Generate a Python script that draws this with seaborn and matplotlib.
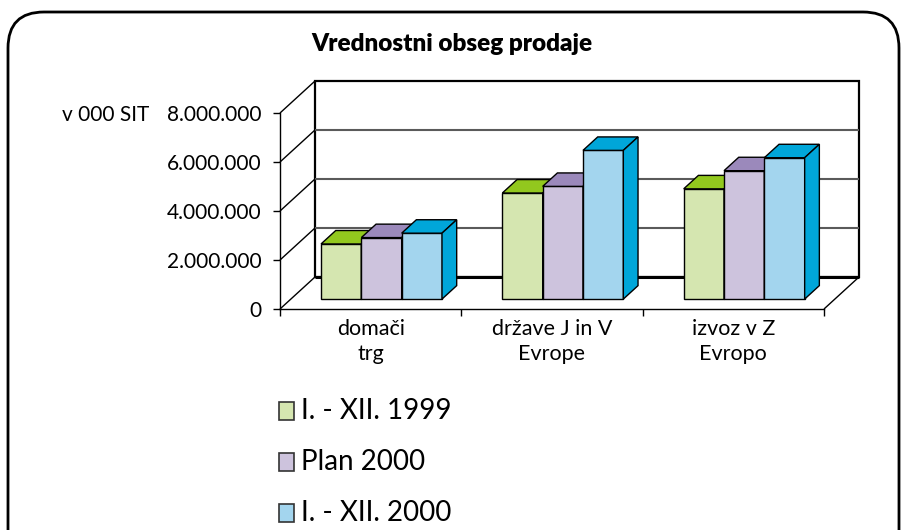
import numpy as np
import pandas as pd
import matplotlib
matplotlib.use("Agg")
import matplotlib.pyplot as plt
import seaborn as sns
from matplotlib.patches import Polygon, Rectangle, FancyBboxPatch
from matplotlib.lines import Line2D
from matplotlib.transforms import ScaledTranslation
from matplotlib.ticker import FuncFormatter, FixedLocator

# ---------------- data ----------------
title = "Vrednostni obseg prodaje"
unit_label = "v 000 SIT"
categories = ["domači\ntrg", "države J in V\nEvrope", "izvoz v Z\nEvropo"]
series = ["I. - XII. 1999", "Plan 2000", "I. - XII. 2000"]
values_1999 = [2250000, 4330000, 4500000]
values_plan_2000 = [2510000, 4600000, 5240000]
values_2000 = [2690000, 6070000, 5770000]
y_ticks = [0, 2000000, 4000000, 6000000, 8000000]
front_colors = ["#D5E6B0", "#CDC3DD", "#A3D5EE"]
top_colors = ["#92C81E", "#9B89BB", "#00A6D9"]

# ---------------- style ----------------
sns.set_theme(style="white")
plt.rcParams["font.family"] = ["Lato", "DejaVu Sans"]

W, H = 903, 530
fig = plt.figure(figsize=(W / 100, H / 100), dpi=100)
fig.patch.set_facecolor("white")

# front plane of the pseudo-3D box (depth 0)
ax = fig.add_axes([280 / W, (H - 309) / H, 544 / W, 196 / H])
ax.set_facecolor("none")

rows = []
for s, vals in zip(series, [values_1999, values_plan_2000, values_2000]):
    for c, v in zip(categories, vals):
        rows.append({"cat": c, "series": s, "val": v})
df = pd.DataFrame(rows)

sns.barplot(data=df, x="cat", y="val", hue="series", order=categories,
            hue_order=series, palette=front_colors, saturation=1,
            width=0.667, edgecolor="black", linewidth=1.0, ax=ax,
            legend=False, errorbar=None)

ax.set_xlim(-0.5, len(categories) - 0.5)
ax.set_ylim(y_ticks[0], y_ticks[-1])
ax.set_xlabel("")
ax.set_ylabel("")
for side in ["top", "right"]:
    ax.spines[side].set_visible(False)
for side in ["left", "bottom"]:
    ax.spines[side].set_color("black")
    ax.spines[side].set_linewidth(1.0)
    ax.spines[side].set_zorder(3)

ax.yaxis.set_major_locator(FixedLocator(y_ticks))
ax.yaxis.set_major_formatter(FuncFormatter(lambda v, p: f"{v:,.0f}".replace(",", ".")))
ax.tick_params(axis="y", which="major", direction="out", length=5, width=1,
               color="black", labelsize=15, pad=8.5, labelcolor="black", left=True)
ax.set_xticks(range(len(categories)))
ax.set_xticklabels(categories, linespacing=1.35)
ax.set_xticks(np.arange(-0.5, len(categories), 1.0), minor=True)
ax.tick_params(axis="x", which="major", length=0, labelsize=15.5, pad=7, labelcolor="black")
ax.tick_params(axis="x", which="minor", direction="out", length=5, width=1,
               color="black", bottom=True)
ax.grid(False)

# ---------------- pseudo-3D helpers ----------------
DX, DY = 35.0, 32.0      # pixel offset of full depth
D0, DB = 0.31, 0.42      # bar front depth, bar thickness
fig.canvas.draw()

def P(x, y, d):
    disp = ax.transData.transform((x, y)) + np.array([DX * d, DY * d]) * fig.dpi / 100.0
    return fig.transFigure.inverted().transform(disp)

def poly(pts, fc, ec="black", lw=1.0, z=1):
    p = Polygon(pts, closed=True, facecolor=fc, edgecolor=ec, linewidth=lw,
                transform=fig.transFigure, zorder=z, clip_on=False, joinstyle="miter")
    ax.add_patch(p)

def line(a, b, color="black", lw=1.0, z=1):
    l = Line2D([a[0], b[0]], [a[1], b[1]], color=color, linewidth=lw,
               transform=fig.transFigure, zorder=z, clip_on=False,
               solid_capstyle="butt")
    ax.add_line(l)

x0, x1 = -0.5, len(categories) - 0.5
ymin, ymax = y_ticks[0], y_ticks[-1]

# back wall
poly([P(x0, ymin, 1), P(x1, ymin, 1), P(x1, ymax, 1), P(x0, ymax, 1)],
     fc="white", ec="black", lw=1.6, z=0.5)
for v in y_ticks[1:-1]:
    line(P(x0, v, 1), P(x1, v, 1), color="#5a5a5a", lw=1.5, z=0.6)
line(P(x0, ymin, 1), P(x1, ymin, 1), color="black", lw=2.2, z=0.7)
# side wall lines
for v in y_ticks:
    line(P(x0, v, 0), P(x0, v, 1), color="black", lw=1.0, z=0.7)
# floor right edge
line(P(x1, ymin, 0), P(x1, ymin, 1), color="black", lw=1.0, z=0.7)

# bars: move seaborn bars to their depth and add top / side faces
offset = ScaledTranslation(DX * D0 / 100.0, DY * D0 / 100.0, fig.dpi_scale_trans)
bars = []
for hi, cont in enumerate(ax.containers):
    for bar in cont:
        bars.append((bar, hi))
bars.sort(key=lambda t: t[0].get_x())
for i, (bar, hi) in enumerate(bars):
    z = 10 + 2 * i
    bar.set_transform(ax.transData + offset)
    bar.set_clip_on(False)
    bar.set_zorder(z)
    bx0 = bar.get_x()
    bx1 = bx0 + bar.get_width()
    h = bar.get_height()
    poly([P(bx0, h, D0), P(bx1, h, D0), P(bx1, h, D0 + DB), P(bx0, h, D0 + DB)],
         fc=top_colors[hi], z=z + 1)
    poly([P(bx1, 0, D0), P(bx1, 0, D0 + DB), P(bx1, h, D0 + DB), P(bx1, h, D0)],
         fc=top_colors[hi], z=z + 1)

# ---------------- texts ----------------
fig.text(452 / W, 1 - 44 / H, title, ha="center", va="center",
         fontsize=17.5, fontweight="heavy", color="black")
fig.text(62 / W, 1 - 115 / H, unit_label, ha="left", va="center",
         fontsize=15, color="black")

# legend
legend_rows = [411, 462, 513]
for i, s in enumerate(series):
    yc = legend_rows[i]
    fig.patches.append(Rectangle((279 / W, 1 - (yc + 9) / H), 15 / W, 18 / H,
                                 facecolor=front_colors[i], edgecolor="#333333",
                                 linewidth=1.2, transform=fig.transFigure))
    fig.text(301 / W, 1 - yc / H, s, ha="left", va="center",
             fontsize=20, color="black")

# rounded border
fig.patches.append(FancyBboxPatch((0.08, -0.5), 8.91, 5.68,
                                  boxstyle="round,pad=0,rounding_size=0.36",
                                  transform=fig.dpi_scale_trans,
                                  facecolor="none", edgecolor="black", linewidth=2.0))

fig.savefig("out.png", dpi=100)
